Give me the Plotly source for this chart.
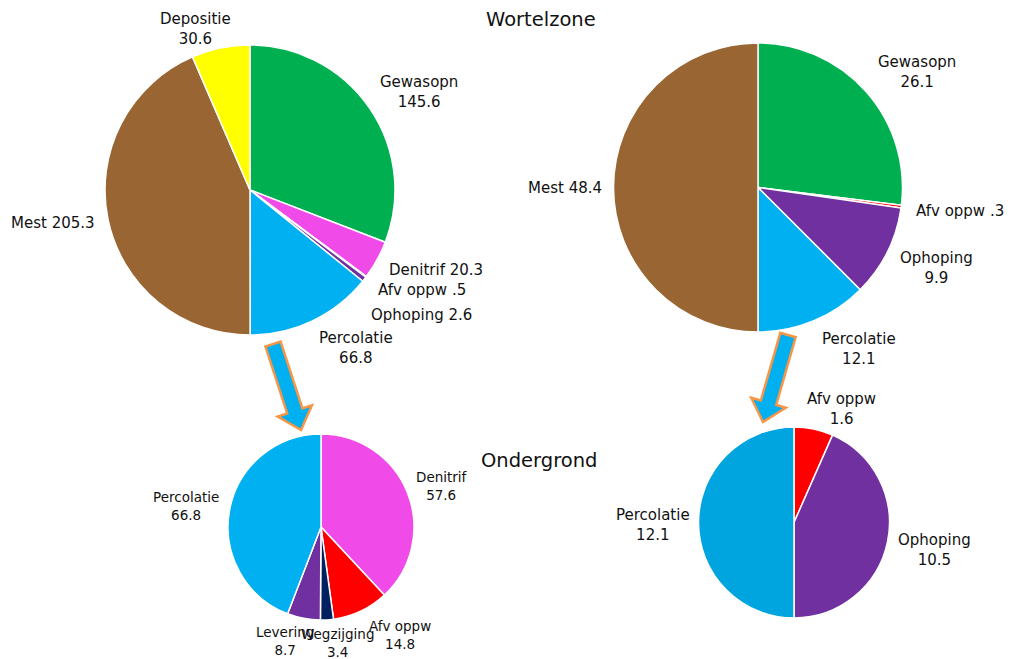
import math
import plotly.graph_objects as go

W, H = 1013, 659

# --- data ---
wz1_labels = ["Gewasopn", "Denitrif", "Afv oppw", "Ophoping", "Percolatie", "Mest", "Depositie"]
wz1_values = [145.6, 20.3, 0.5, 2.6, 66.8, 205.3, 30.6]

wz2_labels = ["Gewasopn", "Afv oppw", "Ophoping", "Percolatie", "Mest"]
wz2_values = [26.1, 0.3, 9.9, 12.1, 48.4]

og1_labels = ["Denitrif", "Afv oppw", "Wegzijging", "Levering", "Percolatie"]
og1_values = [57.6, 14.8, 3.4, 8.7, 66.8]

og2_labels = ["Afv oppw", "Ophoping", "Percolatie"]
og2_values = [1.6, 10.5, 12.1]

# --- layout: label centres (px) and one-line flags ---
wz1_label_pos = [(419, 92), (436, 270), (422, 290), (421, 315), (356, 348), (53, 223), (195, 29)]
wz1_inline = [False, True, True, True, False, True, False]
wz2_label_pos = [(917, 72), (960, 211), (936, 268), (859, 349), (565, 188)]
wz2_inline = [False, True, False, False, True]
og1_label_pos = [(442, 486), (400, 635), (337, 643), (285, 641), (186, 506)]
og1_inline = [False] * 5
og2_label_pos = [(841, 409), (934, 550), (653, 525)]
og2_inline = [False] * 3

# --- styling ---
COL = {
    "Gewasopn": "#00B050", "Denitrif": "#F04BE8", "Afv oppw": "#FF0000",
    "Ophoping": "#7030A0", "Percolatie": "#00B0F0", "Mest": "#996633",
    "Depositie": "#FFFF00", "Wegzijging": "#002060", "Levering": "#7030A0",
}
FONT = "DejaVu Sans"
TXT = "#111111"

def fmt(v):
    s = f"{v:.1f}"
    return s[1:] if s.startswith("0.") else s

def dom(x0, x1, y0, y1):
    return dict(x=[x0 / W, x1 / W], y=[1 - y1 / H, 1 - y0 / H])

fig = go.Figure()
annotations = []

def add_pie(labels, values, domain, positions, inline, fsize, colors=None):
    cols = colors or [COL[l] for l in labels]
    fig.add_trace(go.Pie(
        labels=labels, values=values, textinfo="none", sort=False, direction="clockwise",
        rotation=0, domain=domain, marker=dict(colors=cols, line=dict(color="white", width=1.5)),
        showlegend=False, hoverinfo="label+value",
    ))
    for l, v, (px, py), one in zip(labels, values, positions, inline):
        sep = " " if one else "<br>"
        annotations.append(dict(
            text=f"{l}{sep}{fmt(v)}", x=px / W, y=1 - py / H, xref="paper", yref="paper",
            xanchor="center", yanchor="middle", showarrow=False,
            font=dict(family=FONT, size=fsize, color=TXT)))

add_pie(wz1_labels, wz1_values, dom(105, 395, 45, 335), wz1_label_pos, wz1_inline, 15)
add_pie(wz2_labels, wz2_values, dom(613, 903, 43, 332), wz2_label_pos, wz2_inline, 15)
add_pie(og1_labels, og1_values, dom(228, 414, 434, 620), og1_label_pos, og1_inline, 13.5)
add_pie(og2_labels, og2_values, dom(698, 890, 427, 618), og2_label_pos, og2_inline, 15,
        colors=["#FF0000", "#7030A0", "#00A5DF"])

# arrows (layout decoration)
def arrow(top, tip, half_w=8, head_w=18, head_l=20):
    dx, dy = tip[0] - top[0], tip[1] - top[1]
    L = math.hypot(dx, dy)
    ux, uy = dx / L, dy / L
    px, py = -uy, ux
    bx, by = tip[0] - head_l * ux, tip[1] - head_l * uy
    pts = [
        (top[0] + half_w * px, top[1] + half_w * py),
        (bx + half_w * px, by + half_w * py),
        (bx + head_w * px, by + head_w * py),
        tip,
        (bx - head_w * px, by - head_w * py),
        (bx - half_w * px, by - half_w * py),
        (top[0] - half_w * px, top[1] - half_w * py),
    ]
    path = "M " + " L ".join(f"{x / W:.5f},{1 - y / H:.5f}" for x, y in pts) + " Z"
    return dict(type="path", path=path, xref="paper", yref="paper",
                fillcolor="#00B0F0", line=dict(color="#F79646", width=2.5), layer="above")

annotations += [
    dict(text="Wortelzone", x=541 / W, y=1 - 20 / H, xref="paper", yref="paper",
         xanchor="center", yanchor="middle", showarrow=False,
         font=dict(family=FONT, size=19.5, color=TXT)),
    dict(text="Ondergrond", x=539 / W, y=1 - 460 / H, xref="paper", yref="paper",
         xanchor="center", yanchor="middle", showarrow=False,
         font=dict(family=FONT, size=19.5, color=TXT)),
]

fig.update_layout(
    width=W, height=H, margin=dict(l=0, r=0, t=0, b=0, pad=0), autosize=False,
    showlegend=False,
    paper_bgcolor="white", plot_bgcolor="white",
    font=dict(family=FONT, size=15, color=TXT),
    shapes=[arrow((273, 344), (301, 430)), arrow((788, 335), (763, 422))],
    annotations=annotations,
)

fig.write_html("out.html")
